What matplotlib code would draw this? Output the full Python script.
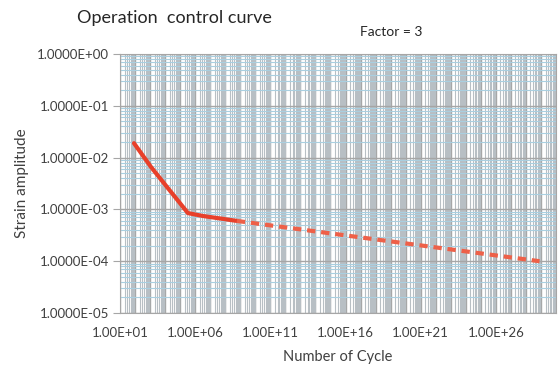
import numpy as np
import matplotlib.pyplot as plt
from matplotlib.ticker import LogLocator, FuncFormatter, NullFormatter

plt.rcParams['font.family'] = ['Lato', 'DejaVu Sans']

# data
cycles_solid = [85, 1150, 2.1e4, 3.3e5, 3e6, 5.9e8]
strain_solid = [1.9e-2, 6.6e-3, 2.3e-3, 8.5e-4, 7.5e-4, 6.0e-4]
cycles_dash = [5.9e8, 8e28]
strain_dash = [6.0e-4, 1.0e-4]
x_labelled = [1e1, 1e6, 1e11, 1e16, 1e21, 1e26]

txt = '#404040'

fig = plt.figure(figsize=(5.6, 3.67), dpi=100)
ax = fig.add_axes([0.2143, 0.1471, 0.7786, 0.7057])

ax.plot(cycles_solid, strain_solid, color='#e8402a', lw=3, solid_capstyle='round',
        solid_joinstyle='round', zorder=3)
ax.plot(cycles_dash, strain_dash, color='#ee6048', lw=3, linestyle=(0, (2, 1.4)), zorder=3)

ax.set_xscale('log')
ax.set_yscale('log')
ax.set_xlim(1e1, 1e30)
ax.set_ylim(1e-5, 1e0)

ax.xaxis.set_major_locator(LogLocator(base=10, numticks=100))
ax.xaxis.set_minor_locator(LogLocator(base=10, subs=np.arange(2, 10), numticks=1000))
ax.yaxis.set_major_locator(LogLocator(base=10, numticks=20))
ax.yaxis.set_minor_locator(LogLocator(base=10, subs=np.arange(2, 10), numticks=100))

def xfmt(v, pos):
    for lv in x_labelled:
        if abs(np.log10(v) - np.log10(lv)) < 1e-6:
            return f"{v:.2E}"
    return ""

ax.xaxis.set_major_formatter(FuncFormatter(xfmt))
ax.xaxis.set_minor_formatter(NullFormatter())
ax.yaxis.set_major_formatter(FuncFormatter(lambda v, p: f"{v:.4E}"))
ax.yaxis.set_minor_formatter(NullFormatter())

ax.grid(which='major', color='#a6a6a6', lw=1.0, zorder=0)
ax.grid(which='minor', axis='x', color='#b8bfc4', lw=0.8, zorder=0)
ax.grid(which='minor', axis='y', color='#a9cfe0', lw=0.8, zorder=0)
ax.set_axisbelow(True)

ax.tick_params(axis='x', which='both', length=0, labelsize=9.5, colors=txt, pad=10)
ax.tick_params(axis='y', which='major', length=5, color='#a6a6a6', labelsize=9.5, colors=txt, pad=3)
ax.tick_params(axis='y', which='minor', length=0)
for s in ax.spines.values():
    s.set_color('#a6a6a6')

ax.set_xlabel('Number of Cycle', fontsize=10.5, color=txt, labelpad=8)
ax.set_ylabel('Strain amplitude', fontsize=11, color=txt, labelpad=6)

fig.text(0.1375, 0.95, 'Operation  control curve', fontsize=13, color='#262626', va='center')
fig.text(0.643, 0.913, 'Factor = 3', fontsize=10, color='#262626', va='center')

fig.savefig('out.png', dpi=100, facecolor='white')
